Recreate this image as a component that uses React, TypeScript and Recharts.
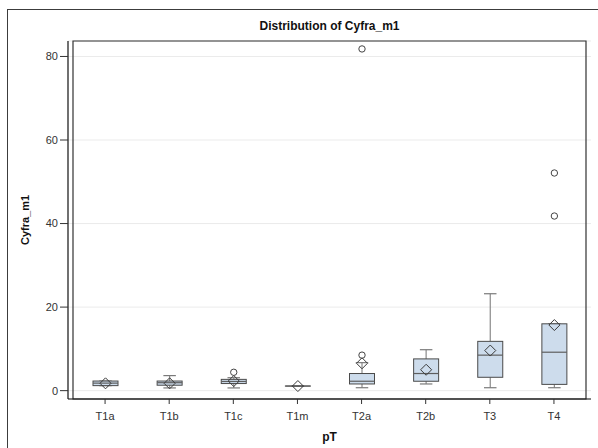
import React from 'react';
import { ComposedChart, Bar, XAxis, YAxis, CartesianGrid, ReferenceArea } from 'recharts';

const categories = ['T1a', 'T1b', 'T1c', 'T1m', 'T2a', 'T2b', 'T3', 'T4'];
const whiskerLow = [1.2, 0.65, 0.65, 1.1, 0.7, 1.6, 0.7, 0.7];
const q1 = [1.2, 1.3, 1.7, 1.1, 1.6, 2.25, 3.2, 1.5];
const median = [1.8, 1.9, 2.2, 1.1, 2.25, 4.1, 8.5, 9.2];
const q3 = [2.3, 2.3, 2.7, 1.1, 4.1, 7.6, 11.8, 16.0];
const whiskerHigh = [2.3, 3.6, 3.1, 1.1, 6.7, 9.8, 23.2, 16.0];
const means = [1.75, 1.75, 2.3, 1.1, 6.55, 5.0, 9.6, 15.7];
const outliers: number[][] = [[], [], [4.4], [], [81.8, 8.5], [], [], [52.1, 41.8]];
const yTicks = [0, 20, 40, 60, 80];
const Y_DOMAIN: [number, number] = [-2.0, 83.7];
const REF_LO = 0;
const REF_HI = 80;

const data = categories.map((name, i) => ({
  name,
  ref: [REF_LO, REF_HI],
  lo: whiskerLow[i],
  q1: q1[i],
  med: median[i],
  q3: q3[i],
  hi: whiskerHigh[i],
  mean: means[i],
  out: outliers[i],
}));

const FONT = '"Liberation Sans", Arial, Helvetica, sans-serif';

const BoxShape = (props: any) => {
  const { x, y, width, height, payload } = props;
  const pLo = y + height;
  const pHi = y;
  const k = (pLo - pHi) / (REF_HI - REF_LO);
  const py = (v: number) => pLo - (v - REF_LO) * k;
  const cx = x + width / 2;
  const capHalf = width / 4;
  const d = 5.5;
  const my = py(payload.mean);
  return (
    <g>
      <line x1={cx} x2={cx} y1={py(payload.q3)} y2={py(payload.hi)} stroke="#8a8a8a" strokeWidth={1.2} />
      <line x1={cx} x2={cx} y1={py(payload.q1)} y2={py(payload.lo)} stroke="#8a8a8a" strokeWidth={1.2} />
      <line x1={cx - capHalf} x2={cx + capHalf} y1={py(payload.hi)} y2={py(payload.hi)} stroke="#7a7a7a" strokeWidth={1.2} />
      <line x1={cx - capHalf} x2={cx + capHalf} y1={py(payload.lo)} y2={py(payload.lo)} stroke="#7a7a7a" strokeWidth={1.2} />
      <rect
        x={x}
        y={py(payload.q3)}
        width={width}
        height={Math.max(py(payload.q1) - py(payload.q3), 0.01)}
        fill="#cddcec"
        stroke="#4a4a4a"
        strokeWidth={1}
      />
      <line x1={x} x2={x + width} y1={py(payload.med)} y2={py(payload.med)} stroke="#5e5e5e" strokeWidth={1.2} />
      <path
        d={`M${cx},${my - d} L${cx + d},${my} L${cx},${my + d} L${cx - d},${my} Z`}
        fill="none"
        stroke="#3a3a3a"
        strokeWidth={1}
      />
      {payload.out.map((v: number, j: number) => (
        <circle key={j} cx={cx} cy={py(v)} r={3.2} fill="none" stroke="#444" strokeWidth={1} />
      ))}
    </g>
  );
};

export default function App() {
  return (
    <div style={{ position: 'absolute', left: 0, top: 0, width: 598, height: 448, overflow: 'hidden', background: '#fff' }}>
      <div
        style={{
          position: 'absolute',
          left: 7,
          top: 9,
          width: 620,
          height: 470,
          border: '1px solid #3c3c3c',
          boxSizing: 'border-box',
        }}
      />
      <div
        style={{
          position: 'absolute',
          left: 68,
          width: 523,
          top: 19,
          textAlign: 'center',
          fontFamily: FONT,
          fontWeight: 'bold',
          fontSize: 12,
          lineHeight: '14px',
          color: '#111',
        }}
      >
        Distribution of Cyfra_m1
      </div>
      <div style={{ position: 'absolute', left: 0, top: 0 }}>
        <ComposedChart
          width={598}
          height={448}
          data={data}
          margin={{ top: 41, right: 7, bottom: 4, left: 0 }}
        >
          <CartesianGrid horizontal vertical={false} stroke="#ebebeb" />
          <XAxis
            dataKey="name"
            type="category"
            padding={{ left: 5, right: 5 }}
            height={45}
            tickSize={5}
            tickMargin={8}
            axisLine={{ stroke: '#111', strokeWidth: 1.2 }}
            tickLine={{ stroke: '#333' }}
            tick={{ fontSize: 11, fill: '#333', fontFamily: FONT }}
            label={{ value: 'pT', position: 'insideBottom', offset: 3, style: { fontSize: 12, fontWeight: 'bold', fontFamily: FONT, fill: '#111' } }}
            interval={0}
          />
          <YAxis
            type="number"
            domain={Y_DOMAIN}
            ticks={yTicks}
            width={68}
            tickSize={8}
            tickMargin={2}
            axisLine={{ stroke: '#111', strokeWidth: 1.2 }}
            tickLine={{ stroke: '#333' }}
            tick={{ fontSize: 11, fill: '#333', fontFamily: FONT }}
            allowDataOverflow
            label={{ value: 'Cyfra_m1', angle: -90, position: 'insideLeft', offset: 25, style: { textAnchor: 'middle', fontSize: 11, fontWeight: 'bold', fontFamily: FONT, fill: '#111' } }}
          />
          <ReferenceArea y1={Y_DOMAIN[0]} y2={Y_DOMAIN[1]} fill="none" fillOpacity={0} stroke="#333" strokeWidth={1.2} ifOverflow="extendDomain" />
          <Bar dataKey="ref" barSize={25} shape={BoxShape} isAnimationActive={false} />
        </ComposedChart>
      </div>
    </div>
  );
}
